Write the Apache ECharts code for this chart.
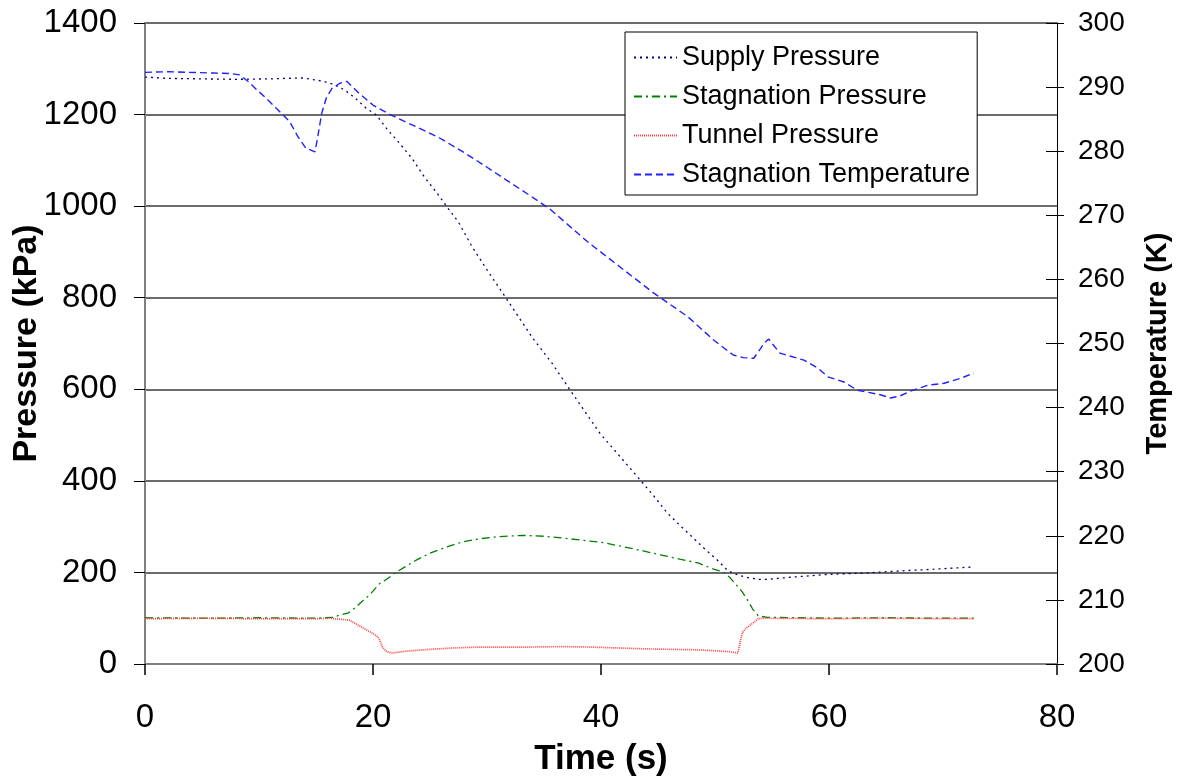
<!DOCTYPE html>
<html>
<head>
<meta charset="utf-8">
<script src="https://cdn.jsdelivr.net/npm/echarts@6/dist/echarts.min.js"></script>
<style>
html,body{margin:0;padding:0;background:#fff;}
#chart{width:1180px;height:782px;}
</style>
</head>
<body>
<div id="chart"></div>
<script>
// ---- Data ----
var xTicks = [0, 20, 40, 60, 80];
var pressureTicks = [0, 200, 400, 600, 800, 1000, 1200, 1400];
var temperatureTicks = [200, 210, 220, 230, 240, 250, 260, 270, 280, 290, 300];

var supplyTime = [0, 2, 5, 8, 11, 13.8, 15.6, 16.4, 17.2, 17.9, 18.7, 19.4, 20.3, 21.3, 22.1, 23.4, 24.5, 25.6, 26.5, 27.5, 28.7, 30.1, 31.6, 32.8, 34.0, 35.7, 37.3, 38.6, 39.9, 41.6, 43.3, 44.6, 45.8, 47.0, 48.1, 49.2, 50.2, 51.0, 51.6, 52.2, 52.8, 53.8, 54.6, 56.9, 60.1, 63.4, 66.0, 69.2, 72.7];
var supplyPressure = [1282, 1279, 1278, 1277, 1278, 1280, 1273, 1267, 1258, 1247, 1230, 1214, 1199, 1166, 1144, 1105, 1064, 1029, 998, 965, 911, 857, 802, 757, 712, 657, 598, 551, 504, 455, 406, 368, 330, 301, 275, 249, 227, 207, 198, 193, 189, 185, 185, 190, 196, 199, 203, 207, 212];

var stagTime = [0, 5, 10, 15, 16.5, 17.1, 17.8, 18.5, 19.1, 19.7, 20.6, 21.2, 22.0, 23.0, 23.8, 25.0, 26.5, 27.9, 29.5, 30.9, 33.1, 35.0, 36.7, 38.5, 40.2, 42.0, 43.7, 45.3, 46.9, 48.5, 49.8, 50.7, 51.3, 51.9, 52.4, 52.9, 53.3, 53.8, 54.6, 60, 65, 70, 72.7];
var stagnationPressure = [101, 100, 101, 100, 102, 107, 111, 124, 138, 151, 176, 185, 200, 215, 227, 242, 256, 267, 274, 278, 281, 279, 275, 270, 265, 256, 247, 238, 229, 221, 208, 201, 189, 172, 157, 138, 120, 105, 102, 100, 101, 100, 100];

var tunnelTime = [0, 5, 10, 15, 16.2, 17.0, 17.9, 18.5, 19.1, 19.7, 20.4, 20.6, 20.8, 21.2, 21.7, 22.9, 25.0, 27.0, 29.4, 33.8, 36.5, 39.0, 41.5, 44.0, 46.2, 48.4, 50.0, 51.3, 52.0, 52.1, 52.2, 52.4, 52.7, 53.3, 53.8, 54.2, 60, 65, 70, 72.7];
var tunnelPressure = [99, 100, 99, 99, 100, 98, 96, 88, 79, 71, 60, 52, 38, 27, 24, 28, 32, 35, 37, 37, 38, 37, 35, 33, 32, 31, 29, 27, 24, 35, 48, 68, 78, 89, 99, 100, 99, 100, 99, 99];

var tempTime = [0, 2.1, 3.9, 6, 7.6, 8.3, 9.1, 9.8, 10.6, 11.8, 12.7, 13.4, 14.1, 14.9, 15.1, 15.5, 15.9, 16.4, 17.1, 17.7, 18.8, 20.0, 21.5, 23.8, 25.8, 27.9, 30.0, 31.7, 33.5, 35.5, 38.8, 41.7, 44.6, 47.6, 49.9, 51.6, 52.5, 53.4, 53.8, 54.3, 54.7, 55.1, 55.7, 57.8, 59.0, 59.9, 61.3, 62.5, 64.5, 65.4, 66.2, 67.2, 68.7, 70.1, 71.6, 72.7];
var stagnationTemperature = [292.3, 292.4, 292.3, 292.2, 292.1, 291.9, 290.8, 289.6, 288.3, 286.2, 284.6, 282.3, 280.5, 279.9, 281.7, 285.9, 288.3, 289.8, 290.6, 290.9, 289.0, 287.2, 285.7, 283.8, 282.1, 279.9, 277.5, 275.5, 273.4, 271.0, 265.9, 261.9, 257.9, 254.2, 250.5, 248.2, 247.8, 247.7, 248.7, 250.0, 250.7, 249.8, 248.5, 247.4, 246.2, 244.8, 244.0, 242.7, 242.0, 241.5, 241.8, 242.6, 243.5, 243.8, 244.6, 245.4];

var seriesNames = ['Supply Pressure', 'Stagnation Pressure', 'Tunnel Pressure', 'Stagnation Temperature'];

function pairs(xs, ys) { return xs.map(function (x, i) { return [x, ys[i]]; }); }
function plain(v) { return String(v); }

var FONT = '"Liberation Sans", Arial, sans-serif';
var chart = echarts.init(document.getElementById('chart'), null, { renderer: 'canvas' });

var option = {
  animation: false,
  backgroundColor: '#ffffff',
  textStyle: { fontFamily: FONT, color: '#000' },
  grid: { left: 145, right: 123, top: 23, bottom: 118, containLabel: false, outerBoundsMode: 'none' },
  legend: {
    orient: 'vertical',
    left: 625,
    top: 32,
    data: seriesNames,
    itemWidth: 43,
    itemHeight: 14,
    itemGap: 12,
    padding: [12, 7, 7, 8],
    backgroundColor: '#ffffff',
    borderColor: '#000',
    borderWidth: 1,
    borderRadius: 0,
    itemStyle: { opacity: 0, borderWidth: 0 },
    textStyle: { fontFamily: FONT, fontSize: 27, color: '#000', lineHeight: 26.5 }
  },
  xAxis: {
    type: 'value',
    min: xTicks[0],
    max: xTicks[xTicks.length - 1],
    interval: xTicks[1] - xTicks[0],
    name: 'Time (s)',
    nameLocation: 'middle',
    nameGap: 78,
    nameMoveOverlap: false,
    nameTextStyle: { fontFamily: FONT, fontSize: 35, fontWeight: 'bold', color: '#000' },
    axisLine: { show: true, onZero: false, lineStyle: { color: '#808080', width: 2 } },
    axisTick: { show: true, inside: false, length: 11, lineStyle: { color: '#000', width: 1.5 } },
    axisLabel: { fontFamily: FONT, fontSize: 33, color: '#000', margin: 37, formatter: plain },
    splitLine: { show: false }
  },
  yAxis: [
    {
      type: 'value',
      position: 'left',
      min: pressureTicks[0],
      max: pressureTicks[pressureTicks.length - 1],
      interval: pressureTicks[1] - pressureTicks[0],
      name: 'Pressure (kPa)',
      nameLocation: 'middle',
      nameRotate: 90,
      nameGap: 101,
      nameMoveOverlap: false,
      nameTextStyle: { fontFamily: FONT, fontSize: 34, fontWeight: 'bold', color: '#000' },
      axisLine: { show: true, lineStyle: { color: '#808080', width: 2 } },
      axisTick: { show: true, inside: false, length: 11, lineStyle: { color: '#000', width: 1 } },
      axisLabel: { fontFamily: FONT, fontSize: 33, color: '#000', margin: 28, formatter: plain },
      splitLine: { show: true, lineStyle: { color: '#3a3a3a', width: 1.5 } }
    },
    {
      type: 'value',
      position: 'right',
      min: temperatureTicks[0],
      max: temperatureTicks[temperatureTicks.length - 1],
      interval: temperatureTicks[1] - temperatureTicks[0],
      name: 'Temperature (K)',
      nameLocation: 'middle',
      nameRotate: 90,
      nameGap: 86,
      nameMoveOverlap: false,
      nameTextStyle: { fontFamily: FONT, fontSize: 29, fontWeight: 'bold', color: '#000' },
      axisLine: { show: true, lineStyle: { color: '#000', width: 1 } },
      axisTick: { show: true, inside: false, length: 7, lineStyle: { color: '#000', width: 1 } },
      axisLabel: { fontFamily: FONT, fontSize: 28, color: '#000', margin: 21, formatter: plain },
      splitLine: { show: false }
    },
    {
      type: 'value',
      position: 'right',
      min: temperatureTicks[0],
      max: temperatureTicks[temperatureTicks.length - 1],
      interval: temperatureTicks[1] - temperatureTicks[0],
      axisLine: { show: false },
      axisTick: { show: true, inside: true, length: 11, lineStyle: { color: '#000', width: 1 } },
      axisLabel: { show: false },
      splitLine: { show: false }
    }
  ],
  series: [
    {
      name: seriesNames[0], type: 'line', yAxisIndex: 0, symbol: 'none', smooth: false,
      data: pairs(supplyTime, supplyPressure),
      itemStyle: { color: '#000080' },
      lineStyle: { color: '#000080', width: 1.3, type: [2, 4] }
    },
    {
      name: seriesNames[1], type: 'line', yAxisIndex: 0, symbol: 'none', smooth: false,
      data: pairs(stagTime, stagnationPressure),
      itemStyle: { color: '#008000' },
      lineStyle: { color: '#008000', width: 1.3, type: [8, 4, 2, 4] }
    },
    {
      name: seriesNames[2], type: 'line', yAxisIndex: 0, symbol: 'none', smooth: false,
      data: pairs(tunnelTime, tunnelPressure),
      itemStyle: { color: '#ff0000' },
      lineStyle: { color: '#ff4040', width: 1.7, type: [1, 1] }
    },
    {
      name: seriesNames[3], type: 'line', yAxisIndex: 1, symbol: 'none', smooth: false,
      data: pairs(tempTime, stagnationTemperature),
      itemStyle: { color: '#2020ff' },
      lineStyle: { color: '#2020ff', width: 1.4, type: [7, 4] }
    }
  ]
};
chart.setOption(option);
</script>
</body>
</html>
